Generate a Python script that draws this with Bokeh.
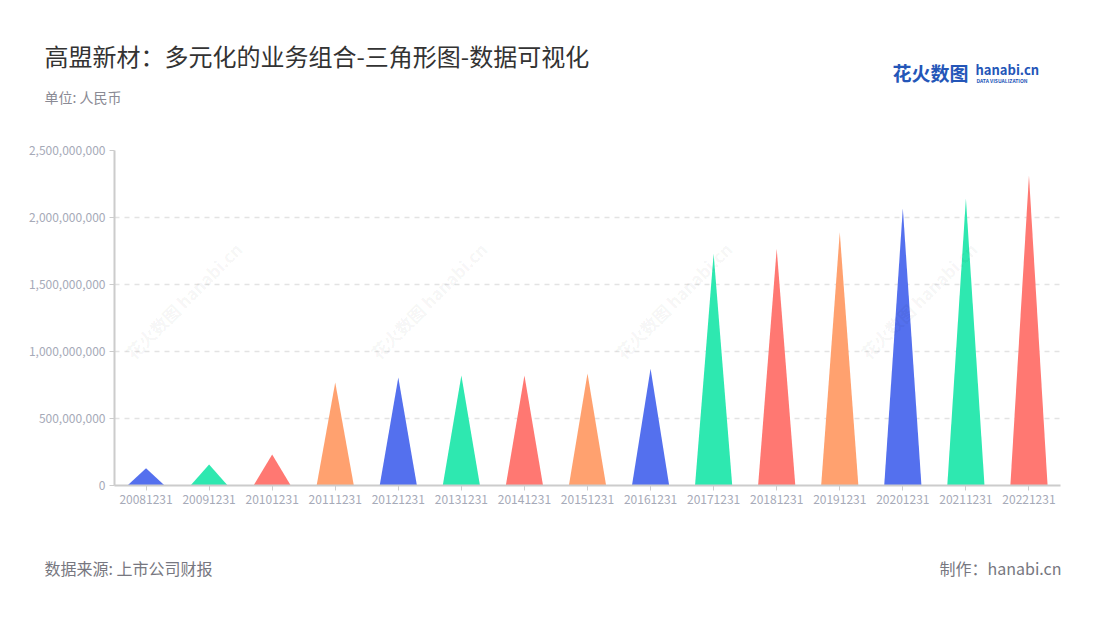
from bokeh.plotting import figure
from bokeh.models import FixedTicker, NumeralTickFormatter, ColumnDataSource, Range1d
from bokeh.layouts import column
from bokeh.core.properties import value
from bokeh.embed import file_html
from bokeh.resources import INLINE

categories = ["20081231", "20091231", "20101231", "20111231", "20121231", "20131231",
              "20141231", "20151231", "20161231", "20171231", "20181231", "20191231",
              "20201231", "20211231", "20221231"]
values = [129e6, 157e6, 231e6, 768e6, 806e6, 821e6, 821e6, 836e6, 871e6,
          1729e6, 1766e6, 1890e6, 2069e6, 2139e6, 2313e6]
palette = ["#5470EE", "#2EE8B0", "#FF7872", "#FFA16F"]
y_ticks = [0, 500e6, 1000e6, 1500e6, 2000e6, 2500e6]

title_text = "高盟新材：多元化的业务组合-三角形图-数据可视化"
unit_text = "单位: 人民币"
source_text = "数据来源: 上市公司财报"
credit_text = "制作：hanabi.cn"

W = 1090
HEAD_H, MAIN_H, FOOT_H = 140, 390, 80
FONT = "Noto Sans CJK SC"


def blank(h):
    f = figure(width=W, height=h, output_backend="svg", toolbar_location=None,
               x_range=Range1d(0, W), y_range=Range1d(h, 0),
               x_axis_type=None, y_axis_type=None, min_border=0, frame_align=False)
    f.outline_line_color = None
    f.xgrid.visible = False
    f.ygrid.visible = False
    return f


def txt(f, x, y, t, size, color, bold=False, align="left", angle=0.0, alpha=1.0):
    f.text(x=[x], y=[y], text=[t], text_font=value(FONT), text_font_size=f"{size}px",
           text_color=color, text_font_style="bold" if bold else "normal",
           text_align=align, text_baseline="middle", angle=angle, text_alpha=alpha)


# ---------- header ----------
head = blank(HEAD_H)
txt(head, 44, 55, title_text, 24, "#333333")
txt(head, 44, 96, unit_text, 14, "#8A8A94")
txt(head, 892, 72, "花火数图", 19, "#2456B8", bold=True)
txt(head, 975, 69, "hanabi.cn", 13, "#2456B8", bold=True)
txt(head, 976, 80, "DATA VISUALIZATION", 5, "#2456B8", bold=True)

# ---------- main chart ----------
half = 0.295
xs, ys, cols = [], [], []
for i, v in enumerate(values):
    c = i + 0.5
    xs.append([c - half, c, c + half])
    ys.append([0, v, 0])
    cols.append(palette[i % 4])
src = ColumnDataSource(dict(xs=xs, ys=ys, color=cols))

p = figure(width=W, height=MAIN_H, output_backend="svg", toolbar_location=None,
           x_range=Range1d(0, len(categories)), y_range=Range1d(0, 2.5e9),
           min_border_left=114, min_border_right=W - 1060, min_border_top=10,
           min_border_bottom=MAIN_H - 10 - 335, frame_align=False)
p.outline_line_color = None

p.ygrid.ticker = FixedTicker(ticks=y_ticks)
p.ygrid.grid_line_color = "#E3E3E3"
p.ygrid.grid_line_dash = "5 5"
p.ygrid.grid_line_width = 1.5
p.xgrid.grid_line_color = None

p.patches("xs", "ys", source=src, fill_color="color", line_color=None)

# watermark (middle row, fully inside plot area)
wm_y = 2.5e9 * (485 - 300) / 335
for cx in [183, 428, 673, 918]:
    xd = (cx - 114) / (946 / len(categories))
    p.text(x=[xd], y=[wm_y], text=["花火数图 hanabi.cn"], text_font=value(FONT),
           text_font_size="17px", text_color="#000000", text_alpha=0.05,
           text_font_style="bold", text_align="center", text_baseline="middle", angle=0.785)

p.xaxis.ticker = FixedTicker(ticks=[i + 0.5 for i in range(len(categories))])
p.xaxis.major_label_overrides = {i + 0.5: c for i, c in enumerate(categories)}
p.yaxis.ticker = FixedTicker(ticks=y_ticks)
p.yaxis.formatter = NumeralTickFormatter(format="0,0")
for ax in (p.xaxis[0], p.yaxis[0]):
    ax.minor_tick_line_color = None
    ax.axis_line_color = "#CCCCCC"
    ax.axis_line_width = 2
    ax.major_tick_line_color = "#CCCCCC"
    ax.major_tick_in = 0
    ax.major_tick_out = 5
    ax.major_label_text_color = "#A6AAB8"
    ax.major_label_text_font = FONT
    ax.major_label_text_font_size = "12px"
    ax.major_label_standoff = 4

# ---------- footer ----------
foot = blank(FOOT_H)
fy = 567 - HEAD_H - MAIN_H
txt(foot, 44, fy, source_text, 16, "#777780")
txt(foot, 1061, fy, credit_text, 16, "#777780", align="right")

layout = column(head, p, foot, spacing=0)
open("out.html", "w").write(file_html(layout, INLINE))
